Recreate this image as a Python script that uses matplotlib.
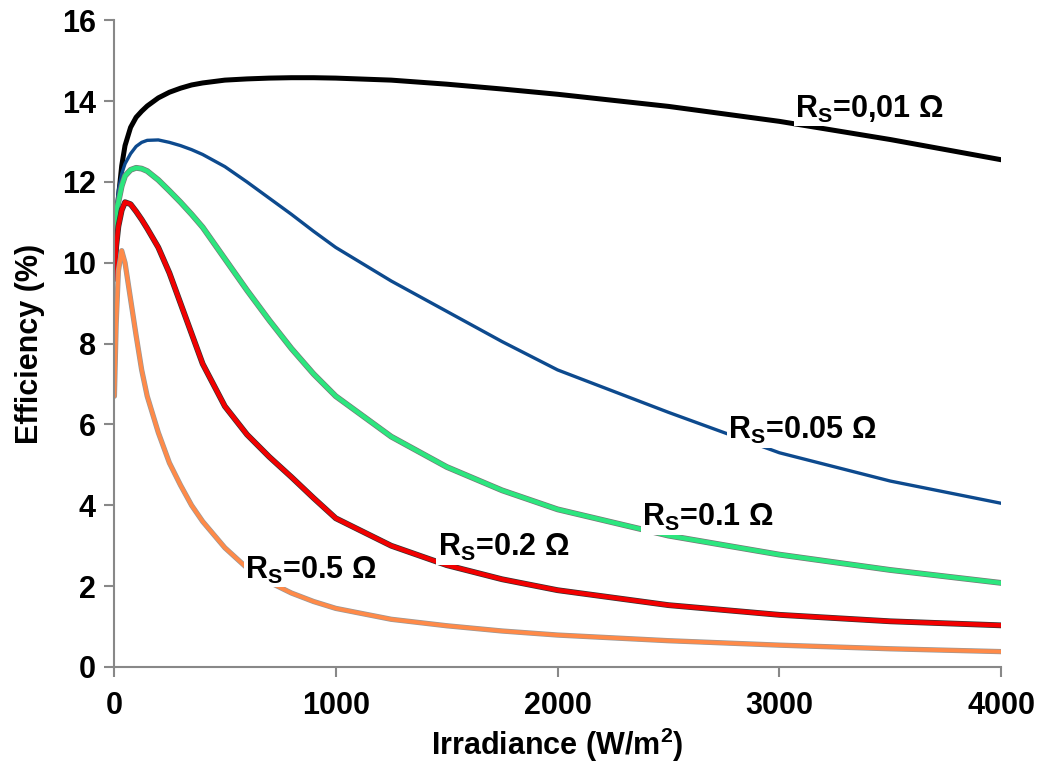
import matplotlib
matplotlib.use("Agg")
import matplotlib.pyplot as plt
import matplotlib.patheffects as pe

plt.rcParams['font.family'] = ['Liberation Sans', 'DejaVu Sans']
plt.rcParams['font.weight'] = 'bold'
plt.rcParams['mathtext.fontset'] = 'custom'
plt.rcParams['mathtext.rm'] = 'Liberation Sans:bold'
plt.rcParams['mathtext.bf'] = 'Liberation Sans:bold'
plt.rcParams['mathtext.default'] = 'bf'

# irradiance grid (W/m2)
irradiance = [2, 10, 20, 35, 50, 75, 100, 125, 150, 200, 250, 300, 350, 400, 500,
              600, 700, 800, 900, 1000, 1250, 1500, 1750, 2000, 2500, 3000, 3500, 4000]

# efficiency (%) for each series resistance
eff_001 = [10.0, 11.0, 11.6, 12.4, 12.9, 13.35, 13.6, 13.75, 13.88, 14.08, 14.22, 14.32, 14.4, 14.45, 14.52,
           14.55, 14.57, 14.58, 14.58, 14.57, 14.52, 14.42, 14.3, 14.17, 13.87, 13.5, 13.05, 12.55]
eff_005 = [10.5, 11.3, 11.8, 12.2, 12.45, 12.7, 12.88, 12.98, 13.03, 13.04, 12.98, 12.9, 12.8, 12.68, 12.38,
           12.0, 11.6, 11.2, 10.78, 10.38, 9.55, 8.8, 8.05, 7.35, 6.3, 5.3, 4.6, 4.05]
eff_01 = [10.8, 11.3, 11.5, 11.9, 12.15, 12.3, 12.35, 12.33, 12.27, 12.05, 11.78, 11.5, 11.2, 10.88, 10.1,
          9.32, 8.58, 7.88, 7.25, 6.7, 5.7, 4.95, 4.37, 3.9, 3.25, 2.78, 2.4, 2.08]
eff_02 = [9.6, 10.4, 10.9, 11.3, 11.5, 11.45, 11.27, 11.07, 10.85, 10.38, 9.75, 9.0, 8.25, 7.5, 6.45,
          5.75, 5.2, 4.7, 4.18, 3.68, 3.0, 2.52, 2.17, 1.9, 1.53, 1.29, 1.13, 1.03]
eff_05 = [6.7, 8.5, 9.8, 10.3, 10.0, 9.1, 8.2, 7.35, 6.7, 5.8, 5.05, 4.5, 4.0, 3.6, 2.95,
          2.45, 2.1, 1.83, 1.62, 1.45, 1.18, 1.02, 0.89, 0.79, 0.65, 0.54, 0.45, 0.38]

labels = [r'R$_S$=0,01 Ω', r'R$_S$=0.05 Ω', r'R$_S$=0.1 Ω', r'R$_S$=0.2 Ω', r'R$_S$=0.5 Ω']
label_pos = [(3071, 13.8), (2769, 5.85), (2381, 3.7), (1461, 2.95), (591, 2.4)]

fig = plt.figure(figsize=(10.55, 7.81), dpi=100)
ax = fig.add_axes([0.108, 0.146, 0.841, 0.828])

series = [
    (eff_001, 'black', 3.6, None),
    (eff_005, '#0D4A8E', 2.4, None),
    (eff_01, '#2CE67E', 3.2, '#777777'),
    (eff_02, '#F20000', 3.2, '#333333'),
    (eff_05, '#FF8A48', 2.8, '#999999'),
]
for vals, col, lw, edge in series:
    effects = None
    if edge:
        effects = [pe.Stroke(linewidth=lw + 1.0, foreground=edge), pe.Normal()]
    ax.plot(irradiance, vals, color=col, lw=lw, path_effects=effects,
            solid_capstyle='round', solid_joinstyle='round', zorder=2)

for txt, (x, y) in zip(labels, label_pos):
    ax.text(x, y, txt, fontsize=22, fontweight='bold', ha='left', va='center',
            bbox=dict(facecolor='white', edgecolor='none', pad=1.0), zorder=3)

ax.set_xlim(0, 4000)
ax.set_ylim(0, 16)
ax.set_xticks([0, 1000, 2000, 3000, 4000])
ax.set_yticks(range(0, 17, 2))
ax.tick_params(axis='both', labelsize=22, colors='#888888', labelcolor='black',
               length=7, width=1.5, direction='out')
for lab in ax.get_xticklabels() + ax.get_yticklabels():
    lab.set_fontweight('bold')
ax.tick_params(axis='x', pad=10)
ax.tick_params(axis='y', pad=6)

for s in ['top', 'right']:
    ax.spines[s].set_visible(False)
for s in ['left', 'bottom']:
    ax.spines[s].set_color('#888888')
    ax.spines[s].set_linewidth(1.5)

ax.set_xlabel(r'Irradiance (W/m$^2$)', fontsize=22, fontweight='bold', labelpad=4)
ax.set_ylabel('Efficiency (%)', fontsize=22, fontweight='bold', labelpad=12)

fig.savefig('out.png', dpi=100)
